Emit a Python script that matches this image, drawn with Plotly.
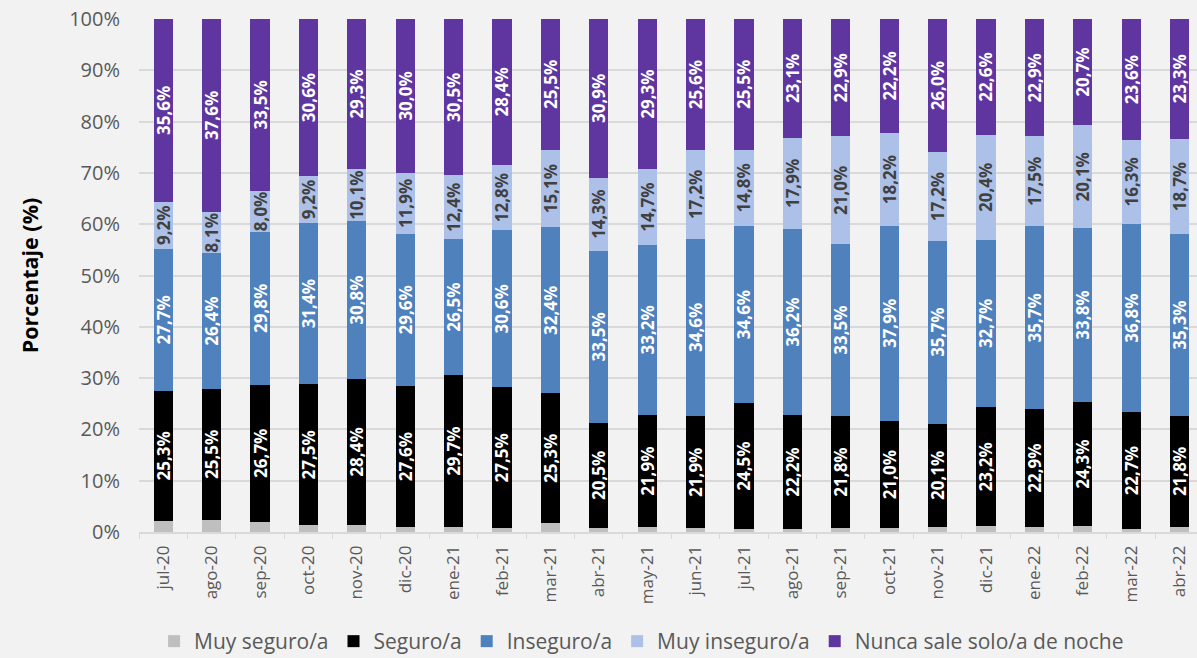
import plotly.graph_objects as go

meses = ["jul-20", "ago-20", "sep-20", "oct-20", "nov-20", "dic-20", "ene-21", "feb-21",
         "mar-21", "abr-21", "may-21", "jun-21", "jul-21", "ago-21", "sep-21", "oct-21",
         "nov-21", "dic-21", "ene-22", "feb-22", "mar-22", "abr-22"]

muy_seguro = [2.2, 2.4, 2.0, 1.3, 1.4, 0.9, 0.9, 0.7, 1.7, 0.8, 0.9, 0.7, 0.6, 0.6, 0.8, 0.7,
              1.0, 1.1, 1.0, 1.1, 0.6, 0.9]
seguro = [25.3, 25.5, 26.7, 27.5, 28.4, 27.6, 29.7, 27.5, 25.3, 20.5, 21.9, 21.9, 24.5, 22.2,
          21.8, 21.0, 20.1, 23.2, 22.9, 24.3, 22.7, 21.8]
inseguro = [27.7, 26.4, 29.8, 31.4, 30.8, 29.6, 26.5, 30.6, 32.4, 33.5, 33.2, 34.6, 34.6, 36.2,
            33.5, 37.9, 35.7, 32.7, 35.7, 33.8, 36.8, 35.3]
muy_inseguro = [9.2, 8.1, 8.0, 9.2, 10.1, 11.9, 12.4, 12.8, 15.1, 14.3, 14.7, 17.2, 14.8, 17.9,
                21.0, 18.2, 17.2, 20.4, 17.5, 20.1, 16.3, 18.7]
nunca = [35.6, 37.6, 33.5, 30.6, 29.3, 30.0, 30.5, 28.4, 25.5, 30.9, 29.3, 25.6, 25.5, 23.1,
         22.9, 22.2, 26.0, 22.6, 22.9, 20.7, 23.6, 23.3]

y_ticks = [0, 10, 20, 30, 40, 50, 60, 70, 80, 90, 100]


def etiquetas(vals):
    return [f"{v:.1f}".replace(".", ",") + "%" for v in vals]


FONT = "Open Sans"
series = [
    ("Muy seguro/a", muy_seguro, "#BFBFBF", None, "#404040"),
    ("Seguro/a", seguro, "#000000", etiquetas(seguro), "#FFFFFF"),
    ("Inseguro/a", inseguro, "#4F81BD", etiquetas(inseguro), "#FFFFFF"),
    ("Muy inseguro/a", muy_inseguro, "#ADC0E8", etiquetas(muy_inseguro), "#404040"),
    ("Nunca sale solo/a de noche", nunca, "#5F35A0", etiquetas(nunca), "#FFFFFF"),
]

fig = go.Figure()
for name, vals, color, txt, tcolor in series:
    fig.add_trace(go.Bar(
        x=meses, y=vals, name=name,
        marker=dict(color=color, line=dict(width=0)),
        text=txt,
        textposition="inside" if txt else "none",
        insidetextanchor="middle",
        textangle=-90,
        constraintext="none",
        textfont=dict(family=FONT, size=17, color=tcolor, weight="bold"),
        hoverinfo="skip",
    ))

fig.update_layout(
    barmode="stack",
    bargap=0.6,
    width=1197, height=658,
    paper_bgcolor="#F2F2F2", plot_bgcolor="#F2F2F2",
    margin=dict(l=139, r=0, t=19, b=126),
    font=dict(family=FONT, color="#595959"),
    uniformtext=dict(minsize=17, mode="show"),
    legend=dict(orientation="h", x=0.536, xanchor="center", xref="container",
                y=0.0, yanchor="bottom", yref="container",
                font=dict(size=21, color="#595959"), traceorder="normal",
                itemwidth=30, bgcolor="rgba(0,0,0,0)"),
    showlegend=True,
)
fig.update_xaxes(
    range=[-0.5, 21.36],
    tickangle=-90,
    tickfont=dict(size=17, color="#595959"),
    ticklabelstandoff=5,
    showline=True, linecolor="#D9D9D9", linewidth=1.5,
    ticks="outside", tickson="boundaries", ticklen=5, tickcolor="#D9D9D9",
    showgrid=False, automargin=False,
)
fig.update_yaxes(
    range=[0, 100],
    tickvals=y_ticks,
    ticktext=[f"{t}%" for t in y_ticks],
    tickfont=dict(size=20, color="#595959"),
    ticklabelstandoff=18,
    showgrid=True, gridcolor="#D9D9D9", gridwidth=1.5,
    zeroline=False, automargin=False,
    title=dict(text="<b>Porcentaje (%)</b>", font=dict(size=21.5, color="#000000"), standoff=24),
)

post = (
    "document.body.style.margin='0';"
    "var g=document.querySelector('.legend');"
    "if(g){var t=g.getAttribute('transform')||'';"
    "var m=t.match(/translate\\(([-\\d.e]+)[ ,]+([-\\d.e]+)\\)/);"
    "if(m){g.setAttribute('transform','translate('+m[1]+','+(parseFloat(m[2])+4)+')');}}"
)
fig.write_html("out.html", post_script=post, config={"displayModeBar": False})
